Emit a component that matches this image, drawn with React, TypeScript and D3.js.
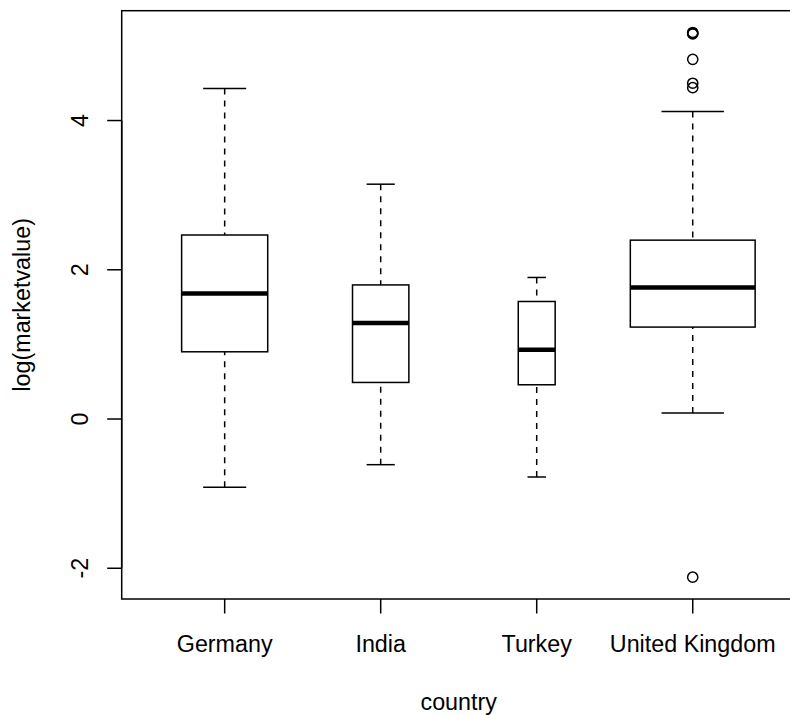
import React from "react";
import * as d3 from "d3";

const categories = ["Germany", "India", "Turkey", "United Kingdom"];
const counts = [49, 21, 9, 103];
const lowerWhisker = [-0.916, -0.612, -0.777, 0.08];
const q1 = [0.901, 0.49, 0.459, 1.232];
const medians = [1.682, 1.286, 0.928, 1.762];
const q3 = [2.466, 1.797, 1.575, 2.397];
const upperWhisker = [4.43, 3.147, 1.897, 4.12];
const outlierGroup = [3, 3, 3, 3, 3, 3, 3];
const outlierValues = [5.16, 5.17, 5.18, 4.82, 4.5, 4.44, -2.12];
const yTicks = [-2, 0, 2, 4];

const W = 790;
const H = 715;
const FONT = "'Liberation Sans', Arial, Helvetica, sans-serif";
const FS = 23.3;

export default function App() {
  const plotLeft = 121.7;
  const plotRight = 795.7;
  const plotTop = 10.7;
  const plotBottom = 599;

  const xs = d3.scaleLinear().domain([0.34, 4.66]).range([plotLeft, plotRight]);
  const allVals = [...lowerWhisker, ...upperWhisker, ...outlierValues];
  const [mn, mx] = d3.extent(allVals) as [number, number];
  const pad = (mx - mn) * 0.04;
  const ys = d3.scaleLinear().domain([mn - pad, mx + pad]).range([plotBottom, plotTop]);

  const nMax = d3.max(counts) as number;
  const lw = 1.5;

  return (
    <svg
      width={W}
      height={H}
      style={{ position: "absolute", left: 0, top: 0, background: "#fff" }}
      fontFamily={FONT}
    >
      <rect x={0} y={0} width={W} height={H} fill="#fff" />
      {categories.map((c, i) => {
        const cx = xs(i + 1);
        const hw = (xs(1 + 0.4 * Math.sqrt(counts[i] / nMax)) - xs(1));
        const capHw = hw / 2;
        return (
          <g key={c}>
            <line x1={cx} x2={cx} y1={ys(lowerWhisker[i])} y2={ys(q1[i])} stroke="#000" strokeWidth={lw} strokeDasharray="6 6" />
            <line x1={cx} x2={cx} y1={ys(upperWhisker[i])} y2={ys(q3[i])} stroke="#000" strokeWidth={lw} strokeDasharray="6 6" />
            <line x1={cx - capHw} x2={cx + capHw} y1={ys(lowerWhisker[i])} y2={ys(lowerWhisker[i])} stroke="#000" strokeWidth={lw} />
            <line x1={cx - capHw} x2={cx + capHw} y1={ys(upperWhisker[i])} y2={ys(upperWhisker[i])} stroke="#000" strokeWidth={lw} />
            <rect x={cx - hw} y={ys(q3[i])} width={2 * hw} height={ys(q1[i]) - ys(q3[i])} fill="none" stroke="#000" strokeWidth={lw} />
            <line x1={cx - hw} x2={cx + hw} y1={ys(medians[i])} y2={ys(medians[i])} stroke="#000" strokeWidth={4.5} />
          </g>
        );
      })}
      {outlierValues.map((v, k) => (
        <circle key={k} cx={xs(outlierGroup[k] + 1)} cy={ys(v)} r={5.1} fill="none" stroke="#000" strokeWidth={lw} />
      ))}
      {/* frame */}
      <rect x={plotLeft} y={plotTop} width={plotRight - plotLeft} height={plotBottom - plotTop} fill="none" stroke="#000" strokeWidth={lw} />
      {/* y axis */}
      <line x1={plotLeft} x2={plotLeft} y1={ys(yTicks[0])} y2={ys(yTicks[yTicks.length - 1])} stroke="#000" strokeWidth={lw} />
      {yTicks.map((t) => (
        <g key={t}>
          <line x1={plotLeft - 14.5} x2={plotLeft} y1={ys(t)} y2={ys(t)} stroke="#000" strokeWidth={lw} />
          <text
            transform={`translate(${plotLeft - 33.6},${ys(t)}) rotate(-90)`}
            textAnchor="middle"
            fontSize={FS}
            fill="#000"
          >
            {t}
          </text>
        </g>
      ))}
      {/* x axis */}
      {categories.map((c, i) => (
        <g key={c}>
          <line x1={xs(i + 1)} x2={xs(i + 1)} y1={plotBottom} y2={plotBottom + 14.5} stroke="#000" strokeWidth={lw} />
          <text x={xs(i + 1)} y={651.5} textAnchor="middle" fontSize={FS} fill="#000">
            {c}
          </text>
        </g>
      ))}
      <text x={(plotLeft + plotRight) / 2} y={710} textAnchor="middle" fontSize={FS} fill="#000">
        country
      </text>
      <text
        transform={`translate(30,${(plotTop + plotBottom) / 2}) rotate(-90)`}
        textAnchor="middle"
        fontSize={FS}
        fill="#000"
      >
        log(marketvalue)
      </text>
    </svg>
  );
}
